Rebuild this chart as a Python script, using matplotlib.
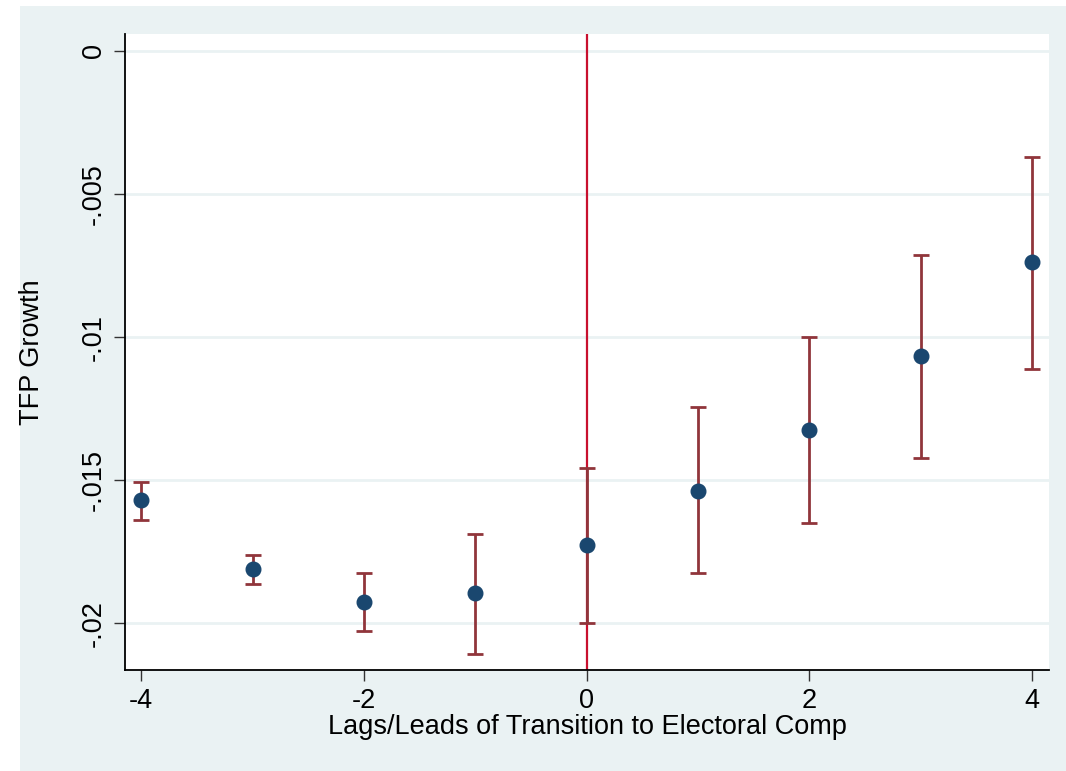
import matplotlib.pyplot as plt
from matplotlib.patches import Rectangle

# lags/leads and estimates with confidence bounds
lags = [-4, -3, -2, -1, 0, 1, 2, 3, 4]
coef = [-0.01570, -0.01812, -0.01928, -0.01895, -0.01727, -0.01537, -0.01325, -0.01066, -0.00739]
ci_hi = [-0.01507, -0.01762, -0.01826, -0.01689, -0.01458, -0.01246, -0.01000, -0.00713, -0.00370]
ci_lo = [-0.01640, -0.01865, -0.02027, -0.02108, -0.01999, -0.01826, -0.01650, -0.01423, -0.01111]

yticks = [0, -0.005, -0.01, -0.015, -0.02]
ytick_labels = ['0', '-.005', '-.01', '-.015', '-.02']
xticks = [-4, -2, 0, 2, 4]

BG = '#eaf2f3'
NAVY = '#1a476f'
MAROON = '#90353b'
FS = 19.5

plt.rcParams['font.family'] = ['Liberation Sans', 'DejaVu Sans']

fig = plt.figure(figsize=(10.66, 7.71), dpi=100, facecolor='white')
fig.patches.append(Rectangle((20 / 1066, 0), 1 - 20 / 1066, 1 - 6 / 771,
                             transform=fig.transFigure, facecolor=BG,
                             edgecolor='none', zorder=-1))

ax = fig.add_axes([125 / 1066, 1 - 670 / 771, (1049 - 125) / 1066, (670 - 34) / 771])
ax.set_facecolor('white')

for y in yticks:
    ax.axhline(y, color=BG, lw=2, zorder=0)

ax.axvline(0, color='#c8102e', lw=1.6, zorder=1)

yerr = [[c - lo for c, lo in zip(coef, ci_lo)], [hi - c for c, hi in zip(coef, ci_hi)]]
ax.errorbar(lags, coef, yerr=yerr, fmt='none', ecolor=MAROON, elinewidth=2,
            capsize=6, capthick=2, zorder=2)
ax.plot(lags, coef, 'o', color=NAVY, markersize=10.5, zorder=3)

ax.set_xlim(-4.146, 4.153)
ax.set_ylim(-0.02164, 0.000594)
ax.set_xticks(xticks)
ax.set_xticklabels([str(x) for x in xticks])
ax.set_yticks(yticks)
ax.set_yticklabels(ytick_labels, rotation=90, va='center')

for s in ['top', 'right']:
    ax.spines[s].set_visible(False)
for s in ['left', 'bottom']:
    ax.spines[s].set_linewidth(1.3)
    ax.spines[s].set_color('black')

ax.tick_params(axis='both', length=8, width=1, color='#333333', labelsize=FS, pad=5)

ax.set_xlabel('Lags/Leads of Transition to Electoral Comp', fontsize=FS, labelpad=0)
ax.set_ylabel('TFP Growth', fontsize=FS, labelpad=26)

fig.savefig('out.png', dpi=100, facecolor=fig.get_facecolor())
